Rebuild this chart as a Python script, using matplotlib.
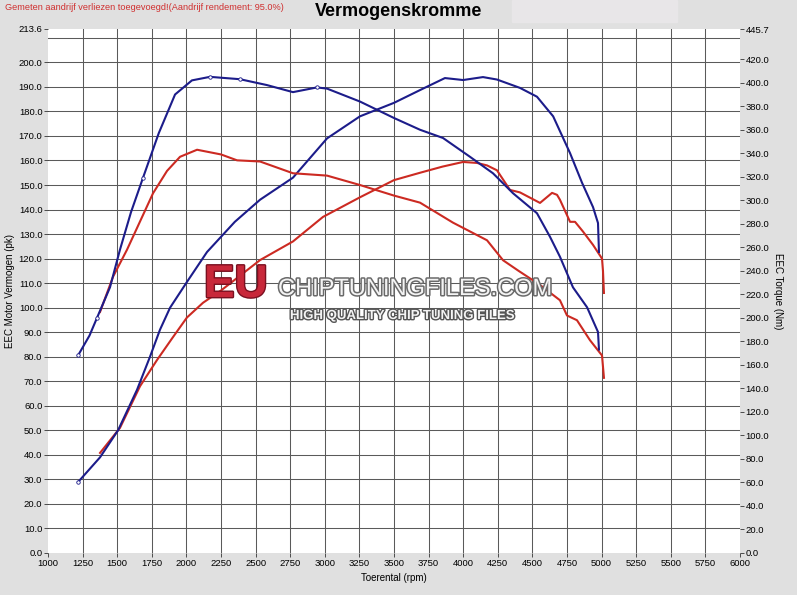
import numpy as np
import matplotlib.pyplot as plt
import matplotlib.patheffects as pe
from matplotlib.patches import Rectangle

plt.rcParams['font.family'] = ['Liberation Sans', 'DejaVu Sans']

# tuned (blue) power, pk
rpm_pw_tuned = [1217, 1376, 1506, 1643, 1737, 1809, 1882, 2004, 2149, 2350, 2532, 2770,
                3016, 3254, 3500, 3688, 3868, 3999, 4143, 4244, 4410, 4533, 4650, 4772,
                4858, 4938, 4974, 4981]
pw_tuned = [28.9, 39.0, 50.0, 66.5, 80.0, 91.0, 100.0, 110.5, 122.7, 135.0, 144.0, 153.0,
            169.0, 178.0, 183.5, 188.7, 193.6, 192.8, 194.0, 193.0, 189.6, 186.0, 178.0, 163.0,
            151.0, 141.0, 134.5, 122.7]

# tuned (blue) torque, Nm
rpm_tq_tuned = [1217, 1300, 1354, 1448, 1520, 1600, 1686, 1800, 1918, 2040, 2170, 2387,
                2582, 2770, 2943, 3016, 3254, 3500, 3688, 3854, 4049, 4215, 4360, 4533,
                4627, 4699, 4793, 4895, 4974, 4981]
tq_tuned = [168, 185, 200, 226, 258, 290, 319, 357, 390, 402, 405, 403,
            398, 392, 396, 395, 384, 370, 360, 353, 337, 323, 306, 289,
            269, 252, 226, 209, 188, 173]

# stock (red) power, pk
rpm_pw_stock = [1376, 1520, 1665, 1788, 1903, 2004, 2120, 2250, 2532, 2770, 2987, 3254,
                3500, 3688, 3850, 3999, 4100, 4172, 4244, 4338, 4410, 4555, 4642, 4678,
                4699, 4772, 4808, 4866, 4938, 5003, 5010, 5017]
pw_stock = [40.8, 51.0, 68.0, 78.7, 88.0, 96.0, 102.0, 107.0, 119.4, 127.0, 137.0, 145.0,
            152.0, 155.0, 157.5, 159.4, 159.0, 158.0, 156.0, 148.0, 147.0, 142.7, 146.8, 146.0,
            144.0, 135.0, 135.0, 131.0, 125.6, 120.0, 115.0, 106.0]

# stock (red) torque, Nm
rpm_tq_stock = [1376, 1470, 1571, 1759, 1860, 1954, 2077, 2250, 2366, 2532, 2770, 3016,
                3254, 3500, 3688, 3926, 4172, 4288, 4400, 4555, 4699, 4750, 4822, 4916,
                5003, 5017]
tq_stock = [205, 235, 258, 306, 325, 337, 343, 339, 334, 333, 323, 321,
            313, 304, 298, 281, 266, 249, 240, 228, 215, 202, 198, 181,
            168, 149]

pk_max = 213.6
nm_max = 445.7
blue = '#1c1c8a'
red = '#cc2a22'

fig = plt.figure(figsize=(7.97, 5.95), dpi=100, facecolor='#e0e0e0')
fig.patches.append(Rectangle((512 / 797, 1 - 22 / 595), 165 / 797, 22 / 595,
                             transform=fig.transFigure, color='#e8e6e8', zorder=0))
ax = fig.add_axes([48 / 797, 1 - 553 / 595, 692 / 797, 524 / 595])
ax2 = ax.twinx()

ax.set_xlim(1000, 6000)
ax.set_ylim(0, pk_max)
ax2.set_ylim(0, nm_max)

for a in (ax, ax2):
    for s in a.spines.values():
        s.set_visible(False)

# grid lines (inner only, no frame)
for v in np.arange(10, 211, 10):
    ax.axhline(v, color='#5a5a5a', lw=0.75, zorder=1)
for v in np.arange(1250, 5751, 250):
    ax.axvline(v, color='#5a5a5a', lw=0.75, zorder=1)

ax.set_xticks(np.arange(1000, 6001, 250))
ax.set_yticks(list(np.arange(0, 201, 10)) + [pk_max])
ax.set_yticklabels(['%.1f' % v for v in ax.get_yticks()])
ax.tick_params(labelsize=6.8, length=3, width=0.6, color='#333333', pad=1)

ax2.set_yticks(list(np.arange(0, 421, 20)) + [nm_max])
ax2.set_yticklabels(['%.1f' % v for v in ax2.get_yticks()])
ax2.tick_params(labelsize=6.8, length=3, width=0.6, color='#333333', pad=1)

ax.plot(rpm_pw_stock, pw_stock, color=red, lw=1.5, zorder=3)
ax2.plot(rpm_tq_stock, tq_stock, color=red, lw=1.5, zorder=3)
ax.plot(rpm_pw_tuned, pw_tuned, color=blue, lw=1.5, zorder=4,
        marker='o', ms=2.5, mfc='white', mew=0.6, markevery=[0])
ax2.plot(rpm_tq_tuned, tq_tuned, color=blue, lw=1.5, zorder=4,
         marker='o', ms=2.5, mfc='white', mew=0.6, markevery=[0, 2, 6, 10, 11, 14])

ax.set_xlabel('Toerental (rpm)', fontsize=7, labelpad=4)
ax.set_ylabel('EEC Motor Vermogen (pk)', fontsize=7, labelpad=3)
ax2.set_ylabel('EEC Torque (Nm)', fontsize=7, rotation=-90, labelpad=10)

fig.text(399 / 797, 1 - 11 / 595, 'Vermogenskromme', ha='center', va='center',
         fontsize=13, fontweight='bold')
fig.text(5 / 797, 1 - 7 / 595, 'Gemeten aandrijf verliezen toegevoegd!(Aandrijf rendement: 95.0%)',
         ha='left', va='center', fontsize=6.6, color='#d03030')

# watermark
fig.text(204 / 797, 1 - 285 / 595, 'EU', ha='left', va='center', fontsize=33,
         fontweight='bold', color='#c8283a', zorder=10,
         path_effects=[pe.withStroke(linewidth=2, foreground='#7a1020')])
fig.text(278 / 797, 1 - 289 / 595, 'CHIPTUNINGFILES.COM', ha='left', va='center',
         fontsize=17, color='#f4f4f4', zorder=10,
         path_effects=[pe.withStroke(linewidth=2.2, foreground='#6a6a6a')])
fig.text(290 / 797, 1 - 316 / 595, 'HIGH QUALITY CHIP TUNING FILES', ha='left', va='center',
         fontsize=9.5, fontweight='bold', color='#f4f4f4', zorder=10,
         path_effects=[pe.withStroke(linewidth=2, foreground='#555555')])

fig.savefig('out.png', dpi=100, facecolor=fig.get_facecolor())
